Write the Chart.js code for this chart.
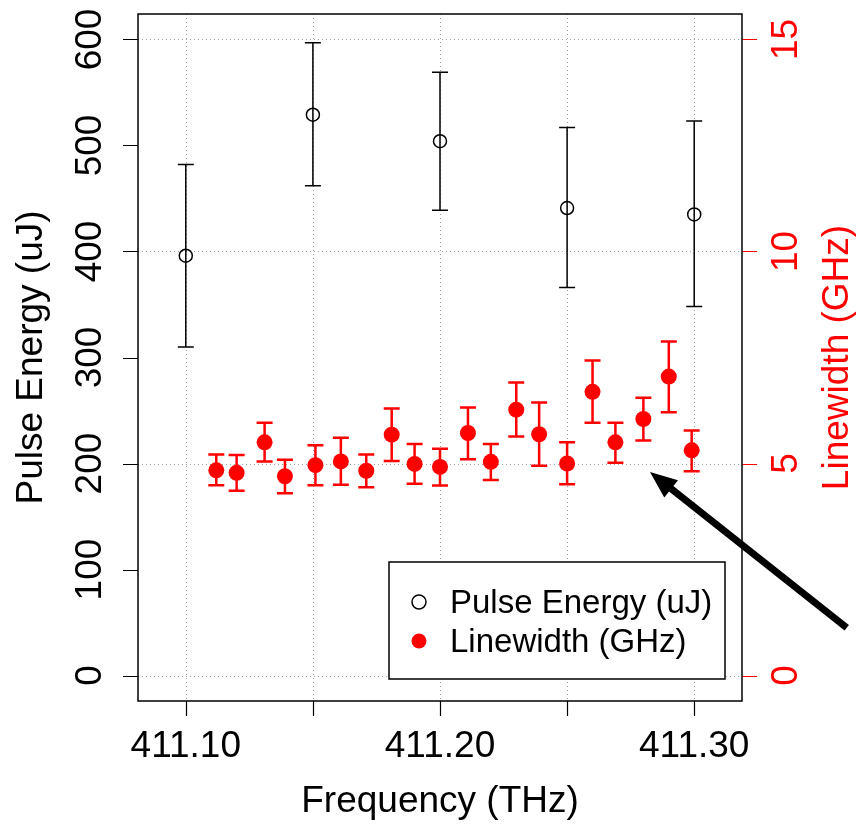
<!DOCTYPE html>
<html>
<head>
<meta charset="utf-8">
<script src="https://cdn.jsdelivr.net/npm/chart.js@4.4.1/dist/chart.umd.min.js"></script>
<style>
  html, body { margin: 0; padding: 0; background: #fff; }
  #wrap { width: 856px; height: 824px; }
</style>
</head>
<body>
<div id="wrap"><canvas id="chart" width="856" height="824"></canvas></div>
<script>
// Pulse energy (left axis)
const peFreq = [411.10, 411.15, 411.20, 411.25, 411.30];
const peValue = [396, 529, 504, 441, 435];
const peLow = [310, 462, 439, 366, 348];
const peHigh = [482, 597, 569, 517, 523];

// Linewidth (right axis)
const lwFreq = [411.112, 411.120, 411.131, 411.139, 411.151, 411.161, 411.171, 411.181, 411.190, 411.200,
                411.211, 411.220, 411.230, 411.239, 411.250, 411.260, 411.269, 411.280, 411.290, 411.299];
const lwValue = [4.84, 4.78, 5.50, 4.70, 4.96, 5.05, 4.83, 5.68, 4.99, 4.92,
                 5.72, 5.04, 6.27, 5.69, 5.00, 6.69, 5.50, 6.05, 7.05, 5.31];
const lwLow = [4.49, 4.36, 5.05, 4.30, 4.49, 4.50, 4.44, 5.06, 4.52, 4.48,
               5.10, 4.61, 5.64, 4.95, 4.51, 5.96, 5.02, 5.54, 6.21, 4.82];
const lwHigh = [5.21, 5.20, 5.96, 5.09, 5.43, 5.61, 5.21, 6.30, 5.46, 5.35,
                6.32, 5.46, 6.91, 6.44, 5.50, 7.43, 5.96, 6.55, 7.88, 5.78];

// Ticks
const xTicks = [411.10, 411.15, 411.20, 411.25, 411.30];
const xTickLabels = ['411.10', '', '411.20', '', '411.30'];
const leftTicks = [0, 100, 200, 300, 400, 500, 600];
const rightTicks = [0, 5, 10, 15];

// Arrow annotation (data units: x = THz, y = left axis)
const arrowFrom = { x: 411.3600, y: 45 };
const arrowTo = { x: 411.2826, y: 192 };

const FONT = '"Liberation Sans", Arial, Helvetica, sans-serif';
const RED = '#ff0000';

function vText(ctx, txt, x, y) {
    // text reading bottom-to-top, (x,y) = baseline centre
    ctx.save();
    ctx.translate(x, y);
    ctx.rotate(-Math.PI / 2);
    ctx.textAlign = 'center';
    ctx.textBaseline = 'alphabetic';
    ctx.fillText(txt, 0, 0);
    ctx.restore();
}

const gridAndBars = {
    id: 'gridAndBars',
    beforeDatasetsDraw(chart) {
        const ctx = chart.ctx, a = chart.chartArea;
        const sx = chart.scales.x, sy = chart.scales.y, sy2 = chart.scales.y2;
        ctx.save();
        // dotted grid
        ctx.strokeStyle = '#a0a0a0';
        ctx.lineWidth = 1;
        ctx.setLineDash([1, 3]);
        xTicks.forEach(v => {
            const px = Math.round(sx.getPixelForValue(v)) + 0.5;
            ctx.beginPath(); ctx.moveTo(px, a.top); ctx.lineTo(px, a.bottom); ctx.stroke();
        });
        rightTicks.forEach(v => {
            const py = Math.round(sy2.getPixelForValue(v)) + 0.5;
            ctx.beginPath(); ctx.moveTo(a.left, py); ctx.lineTo(a.right, py); ctx.stroke();
        });
        ctx.setLineDash([]);

        // error bars - pulse energy
        ctx.strokeStyle = '#000';
        ctx.lineWidth = 1.5;
        peFreq.forEach((f, i) => {
            const px = sx.getPixelForValue(f);
            const y1 = sy.getPixelForValue(peLow[i]), y2 = sy.getPixelForValue(peHigh[i]);
            ctx.beginPath();
            ctx.moveTo(px, y1); ctx.lineTo(px, y2);
            ctx.moveTo(px - 8, y1); ctx.lineTo(px + 8, y1);
            ctx.moveTo(px - 8, y2); ctx.lineTo(px + 8, y2);
            ctx.stroke();
        });
        // error bars - linewidth
        ctx.strokeStyle = RED;
        ctx.lineWidth = 2.5;
        lwFreq.forEach((f, i) => {
            const px = sx.getPixelForValue(f);
            const y1 = sy2.getPixelForValue(lwLow[i]), y2 = sy2.getPixelForValue(lwHigh[i]);
            ctx.beginPath();
            ctx.moveTo(px, y1); ctx.lineTo(px, y2);
            ctx.moveTo(px - 8, y1); ctx.lineTo(px + 8, y1);
            ctx.moveTo(px - 8, y2); ctx.lineTo(px + 8, y2);
            ctx.stroke();
        });
        ctx.restore();
    },
    afterDraw(chart) {
        const ctx = chart.ctx, a = chart.chartArea;
        const sx = chart.scales.x, sy = chart.scales.y, sy2 = chart.scales.y2;
        ctx.save();

        ctx.font = '37px ' + FONT;
        ctx.fillStyle = '#000';
        ctx.strokeStyle = '#000';

        // bottom axis
        ctx.lineWidth = 1.2;
        ctx.beginPath();
        xTicks.forEach(v => {
            const px = Math.round(sx.getPixelForValue(v)) + 0.5;
            ctx.moveTo(px, a.bottom); ctx.lineTo(px, a.bottom + 15);
        });
        ctx.stroke();
        ctx.textAlign = 'center';
        ctx.textBaseline = 'alphabetic';
        xTicks.forEach((v, i) => {
            if (xTickLabels[i]) ctx.fillText(xTickLabels[i], sx.getPixelForValue(v), a.bottom + 56);
        });
        ctx.fillText('Frequency (THz)', (a.left + a.right) / 2, a.bottom + 111);

        // left axis
        ctx.beginPath();
        leftTicks.forEach(v => {
            const py = Math.round(sy.getPixelForValue(v)) + 0.5;
            ctx.moveTo(a.left, py); ctx.lineTo(a.left - 15, py);
        });
        ctx.stroke();
        leftTicks.forEach(v => vText(ctx, String(v), a.left - 37, sy.getPixelForValue(v)));
        vText(ctx, 'Pulse Energy (uJ)', a.left - 96, (a.top + a.bottom) / 2);

        // right axis (red)
        ctx.strokeStyle = RED;
        ctx.fillStyle = RED;
        ctx.beginPath();
        rightTicks.forEach(v => {
            const py = Math.round(sy2.getPixelForValue(v)) + 0.5;
            ctx.moveTo(a.right, py); ctx.lineTo(a.right + 15, py);
        });
        ctx.stroke();
        rightTicks.forEach(v => vText(ctx, String(v), a.right + 55, sy2.getPixelForValue(v)));
        vText(ctx, 'Linewidth (GHz)', a.right + 106, (a.top + a.bottom) / 2);

        // box
        ctx.strokeStyle = '#000';
        ctx.lineWidth = 1.5;
        ctx.strokeRect(a.left, a.top, a.right - a.left, a.bottom - a.top);

        // legend
        const lx = a.left + 251, ly = a.top + 548, lw = 336, lh = 117;
        ctx.strokeStyle = '#000';
        ctx.lineWidth = 1.5;
        ctx.fillStyle = '#fff';
        ctx.fillRect(lx, ly, lw, lh);
        ctx.strokeRect(lx, ly, lw, lh);
        ctx.font = '33px ' + FONT;
        ctx.textAlign = 'left';
        ctx.textBaseline = 'middle';
        const rows = [
            { label: chart.data.datasets[0].label, y: ly + 40, open: true },
            { label: chart.data.datasets[1].label, y: ly + 79, open: false }
        ];
        rows.forEach(r => {
            ctx.beginPath();
            ctx.arc(lx + 30, r.y, r.open ? 7 : 7.5, 0, Math.PI * 2);
            if (r.open) { ctx.strokeStyle = '#000'; ctx.lineWidth = 1.5; ctx.stroke(); }
            else { ctx.fillStyle = RED; ctx.fill(); }
            ctx.fillStyle = '#000';
            ctx.fillText(r.label, lx + 61, r.y + 2);
        });

        // arrow
        const x0 = sx.getPixelForValue(arrowFrom.x), y0 = sy.getPixelForValue(arrowFrom.y);
        const x1 = sx.getPixelForValue(arrowTo.x), y1 = sy.getPixelForValue(arrowTo.y);
        const ang = Math.atan2(y1 - y0, x1 - x0);
        const hl = 27, hw = 11;
        const bx = x1 - hl * Math.cos(ang), by = y1 - hl * Math.sin(ang);
        ctx.strokeStyle = '#000';
        ctx.fillStyle = '#000';
        ctx.lineWidth = 7;
        ctx.lineCap = 'butt';
        ctx.beginPath();
        ctx.moveTo(x0, y0); ctx.lineTo(bx + 4 * Math.cos(ang), by + 4 * Math.sin(ang));
        ctx.stroke();
        ctx.beginPath();
        ctx.moveTo(x1, y1);
        ctx.lineTo(bx + hw * Math.sin(ang), by - hw * Math.cos(ang));
        ctx.lineTo(bx - hw * Math.sin(ang), by + hw * Math.cos(ang));
        ctx.closePath();
        ctx.fill();

        ctx.restore();
    }
};

new Chart(document.getElementById('chart'), {
    type: 'scatter',
    data: {
        datasets: [
            {
                label: 'Pulse Energy (uJ)',
                data: peFreq.map((f, i) => ({ x: f, y: peValue[i] })),
                yAxisID: 'y',
                pointStyle: 'circle',
                pointRadius: 6.5,
                pointBackgroundColor: 'rgba(0,0,0,0)',
                pointBorderColor: '#000',
                pointBorderWidth: 1.5
            },
            {
                label: 'Linewidth (GHz)',
                data: lwFreq.map((f, i) => ({ x: f, y: lwValue[i] })),
                yAxisID: 'y2',
                pointStyle: 'circle',
                pointRadius: 8,
                pointBackgroundColor: RED,
                pointBorderColor: RED,
                pointBorderWidth: 0
            }
        ]
    },
    options: {
        responsive: false,
        animation: false,
        devicePixelRatio: 1,
        layout: { padding: { left: 138, right: 114, top: 14, bottom: 123 } },
        scales: {
            x: { type: 'linear', min: 411.0812, max: 411.3188, display: false },
            y: { type: 'linear', min: -24, max: 624, display: false },
            y2: { type: 'linear', min: -0.6, max: 15.6, display: false }
        },
        plugins: {
            legend: { display: false },
            tooltip: { enabled: false }
        }
    },
    plugins: [gridAndBars]
});
</script>
</body>
</html>
